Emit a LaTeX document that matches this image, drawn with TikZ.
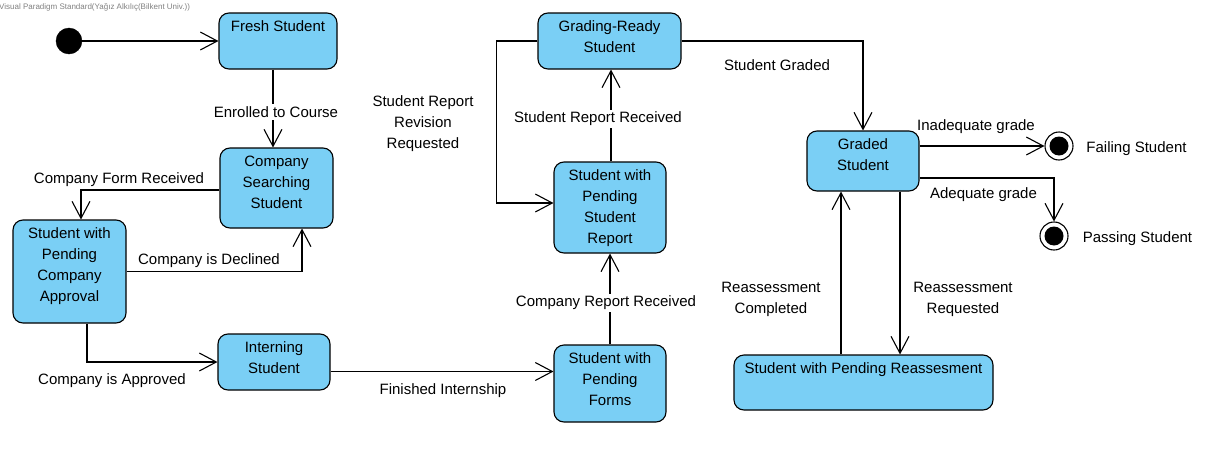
\documentclass[tikz,border=0pt]{standalone}
\usepackage{fontspec}
\setmainfont{Liberation Sans}
\usetikzlibrary{arrows.meta}
\usetikzlibrary{calc}
\usetikzlibrary{positioning}

\definecolor{stfill}{RGB}{122,207,245}
\definecolor{vpgray}{RGB}{128,128,128}
\newcommand{\stfont}{\fontsize{15pt}{21pt}\selectfont}

\begin{document}
\begin{tikzpicture}[x=1pt,y=-1pt,
    >={Straight Barb[length=17pt,width=18pt]},
    state/.style={draw,rectangle,rounded corners=10pt,fill=stfill,line width=1.1pt,inner sep=0pt},
    stname/.style={anchor=north,align=center,inner sep=0pt,yshift=-8pt,font=\stfont},
    lbl/.style={font=\stfont,align=center,inner sep=2pt,yshift=-1pt},
    trans/.style={draw,line width=1.1pt,->},
    final/.style={draw,circle,fill=white,line width=1.1pt,minimum size=28pt,inner sep=0pt,
      path picture={\fill [black] (path picture bounding box.center) circle (9.5pt);}}]

  \useasboundingbox (0,0) rectangle (1213,450);

  \node [anchor=west,inner sep=0pt,text=vpgray,font=\fontsize{8pt}{9pt}\selectfont] (title) at (-1,7)
    {Visual Paradigm Standard(Yağız Alkılıç(Bilkent Univ.))};

  % states
  \node [draw,circle,fill=black,minimum size=26pt,inner sep=0pt] (init) at (69,41) {};
  \node [state,minimum width=118pt,minimum height=56pt,label={[stname]north:Fresh Student}] (fresh) at (278,41) {};
  \node [state,minimum width=113pt,minimum height=80pt,label={[stname]north:Company\\Searching\\Student}] (search) at (276.5,188) {};
  \node [state,minimum width=113pt,minimum height=103pt,label={[stname]north:Student with\\Pending\\Company\\Approval}] (pendcomp) at (69.5,271.5) {};
  \node [state,minimum width=112pt,minimum height=56pt,label={[stname]north:Interning\\Student}] (intern) at (274,362) {};
  \node [state,minimum width=112pt,minimum height=77pt,label={[stname]north:Student with\\Pending\\Forms}] (pendforms) at (610,383.5) {};
  \node [state,minimum width=112pt,minimum height=91pt,label={[stname]north:Student with\\Pending\\Student\\Report}] (pendreport) at (610,207.5) {};
  \node [state,minimum width=143pt,minimum height=56pt,label={[stname]north:Grading-Ready\\Student}] (ready) at (609.5,41) {};
  \node [state,minimum width=112pt,minimum height=60pt,label={[stname]north:Graded\\Student}] (graded) at (863,161) {};
  \node [state,minimum width=259pt,minimum height=55pt,label={[stname]north:Student with Pending Reassesment}] (reassess) at (863.5,382.5) {};
  \node [final] (fail) at (1059,146) {};
  \node [final] (pass) at (1054,236) {};
  \node [lbl] (failname) at (1136.5,148) {Failing Student};
  \node [lbl] (passname) at (1137.5,238) {Passing Student};

  % transitions
  \draw [trans] (init) -- (init -| fresh.west);

  \draw [trans] ([xshift=-5pt]fresh.south) -- ([xshift=-5pt]fresh.south |- search.north);
  \node [lbl,fill=white] (enrol) at (276,111) {Enrolled to Course};

  \draw [trans] ([yshift=-2pt]search.west) -| ([xshift=11.5pt]pendcomp.north);
  \node [lbl] (formrec) at (119,179) {Company Form Received};

  \draw [trans] (pendcomp.east) -| ([xshift=25.5pt]search.south);
  \node [lbl] (declined) at (209,260) {Company is Declined};

  \draw [trans] ([xshift=17.5pt]pendcomp.south) |- (intern.west);
  \node [lbl] (approved) at (112,380) {Company is Approved};

  \draw [trans] ([yshift=-9.5pt]intern.east) -- ([yshift=-9.5pt]intern.east -| pendforms.west);
  \node [lbl] (finished) at (443,390) {Finished Internship};

  \draw [trans] (pendforms.north) -- (pendreport.south);
  \node [lbl,fill=white] (comprep) at (606,302) {Company Report Received};

  \draw [trans] ([xshift=1pt]pendreport.north) -- ([xshift=1pt]pendreport.north |- ready.south);
  \node [lbl,fill=white] (studrep) at (598,118) {Student Report Received};

  \draw [trans] (ready.west) -- ++(-41,0) |- ([yshift=4.5pt]pendreport.west);
  \node [lbl] (revision) at (423,123) {Student Report\\Revision\\Requested};

  \draw [trans] (ready.east) -| (graded.north);
  \node [lbl] (gradedlab) at (777,64) {Student Graded};

  \draw [trans] ([yshift=15pt]graded.east) -- (fail);
  \node [lbl] (inadequate) at (976,126) {Inadequate grade};

  \draw [trans] ([yshift=-17pt]graded.east) -| (pass);
  \node [lbl] (adequate) at (983.5,194) {Adequate grade};

  \draw [trans] ([xshift=-22pt]graded.south |- reassess.north) -- ([xshift=-22pt]graded.south);
  \node [lbl] (completed) at (771,298.5) {Reassessment\\Completed};

  \draw [trans] ([xshift=37pt]graded.south) -- ([xshift=37pt]graded.south |- reassess.north);
  \node [lbl] (requested) at (963,298.5) {Reassessment\\Requested};

\end{tikzpicture}
\end{document}
